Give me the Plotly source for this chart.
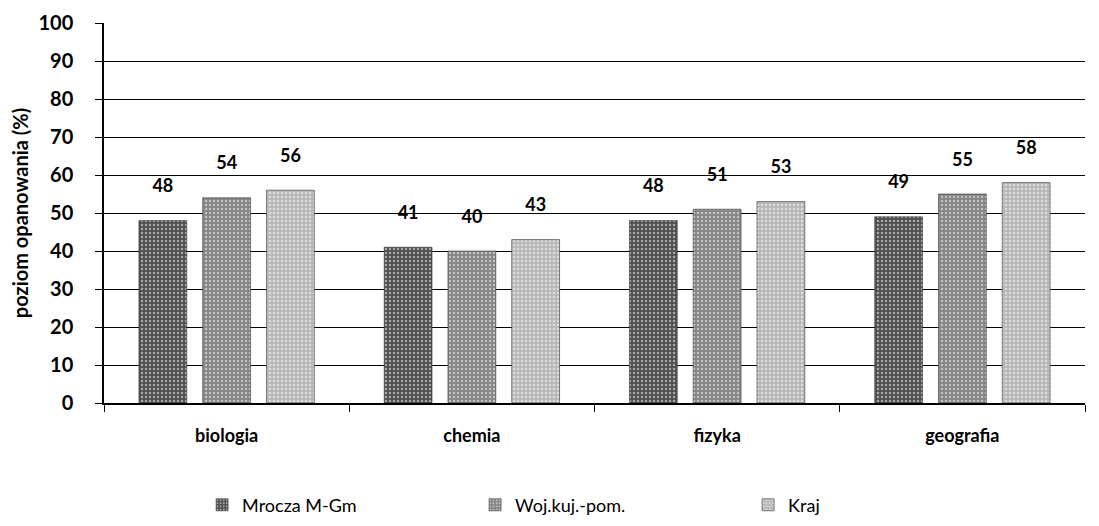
import plotly.graph_objects as go

przedmioty = ["biologia", "chemia", "fizyka", "geografia"]
mrocza = [48, 41, 48, 49]
wojewodztwo = [54, 40, 51, 55]
kraj = [56, 43, 53, 58]

serie = [
    ("Mrocza M-Gm", mrocza, "#4f4f4f"),
    ("Woj.kuj.-pom.", wojewodztwo, "#858585"),
    ("Kraj", kraj, "#b8b8b8"),
]

fig = go.Figure()
for nazwa, wartosci, kolor in serie:
    fig.add_trace(go.Bar(
        x=przedmioty,
        y=wartosci,
        name=nazwa,
        text=[f"{v}<br><span style='font-size:9px'> </span>" for v in wartosci],
        textposition="outside",
        textfont=dict(family="Lato", size=18, color="black", weight="bold"),
        cliponaxis=False,
        marker=dict(
            color=kolor,
            line=dict(color="#333333", width=0.6),
            pattern=dict(shape=".", fgcolor="white", bgcolor=kolor, size=4, solidity=0.3),
        ),
    ))

fig.update_layout(
    width=1099,
    height=526,
    barmode="group",
    bargap=0.22,
    bargroupgap=0.25,
    plot_bgcolor="white",
    paper_bgcolor="white",
    margin=dict(l=96, r=22, t=15, b=131, autoexpand=False),
    font=dict(family="Lato", color="black"),
    uniformtext=dict(minsize=15, mode="show"),
    legend=dict(
        orientation="h",
        x=0.1,
        xanchor="left",
        y=-0.22,
        yanchor="top",
        entrywidth=228,
        entrywidthmode="pixels",
        font=dict(size=18, family="Lato"),
        itemwidth=30,
    ),
    xaxis=dict(
        showline=True,
        linecolor="black",
        linewidth=1.5,
        ticks="outside",
        tickson="boundaries",
        ticklen=7,
        tickcolor="black",
        ticklabelstandoff=16,
        tickfont=dict(size=18, family="Lato", weight="bold"),
    ),
    yaxis=dict(
        range=[0, 100],
        dtick=10,
        showline=True,
        linecolor="black",
        linewidth=1.5,
        ticks="outside",
        ticklen=7,
        tickcolor="black",
        ticklabelstandoff=18,
        showgrid=True,
        gridcolor="black",
        gridwidth=1,
        zeroline=False,
        tickfont=dict(size=20, family="Lato", weight="bold"),
        title=dict(text="<b>poziom opanowania (%)</b>", font=dict(size=20, family="Lato"), standoff=12),
    ),
)

fig.write_html("out.html")
